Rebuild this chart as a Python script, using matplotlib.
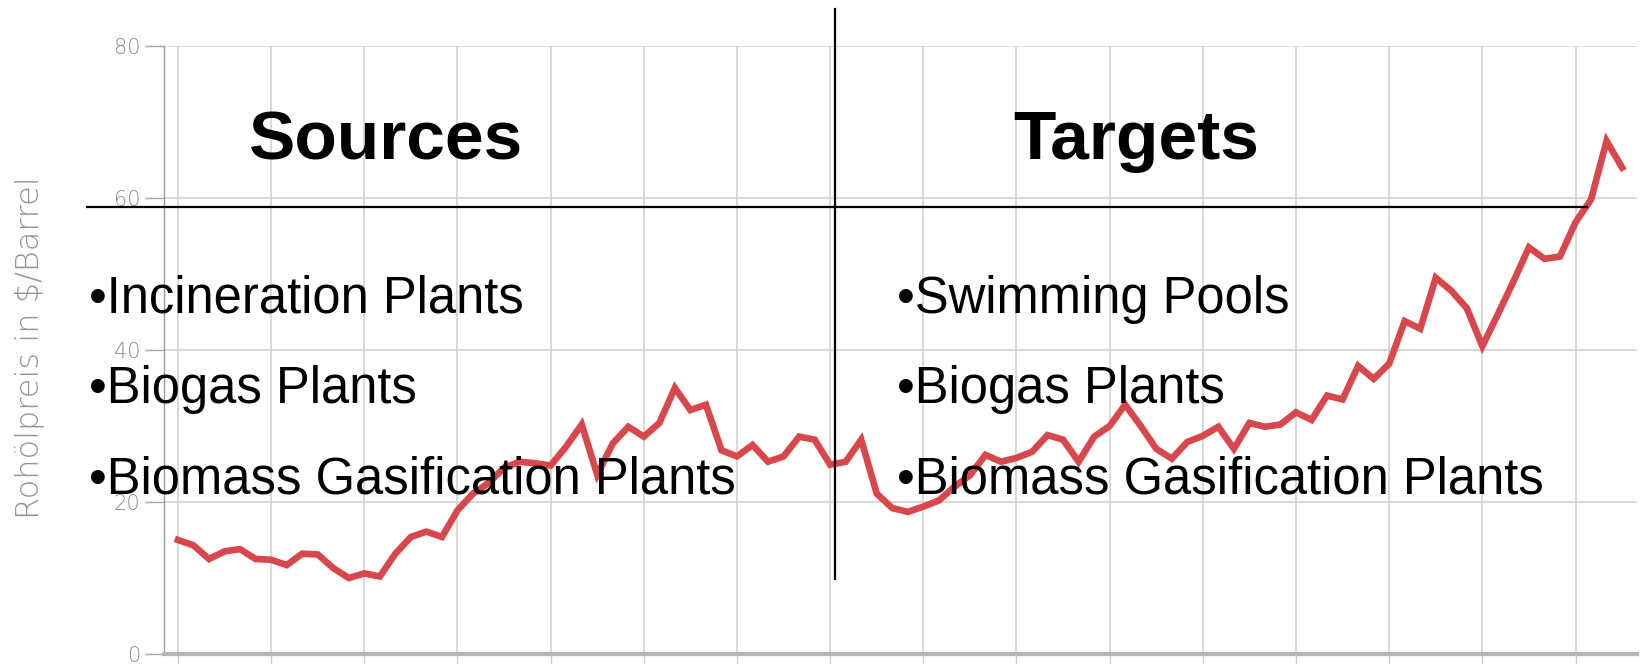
import numpy as np
import matplotlib
matplotlib.use("Agg")
import matplotlib.pyplot as plt
from matplotlib.lines import Line2D

# ---- data ----
prices = [15.0, 14.3, 12.5, 13.5, 13.8, 12.5, 12.4, 11.7, 13.2, 13.1,
          11.3, 10.0, 10.6, 10.2, 13.2, 15.4, 16.1, 15.4, 18.9, 21.1,
          22.5, 24.5, 25.3, 25.1, 24.8, 27.3, 30.2, 23.6, 27.7, 29.9,
          28.6, 30.4, 35.0, 32.1, 32.8, 26.8, 26.0, 27.5, 25.3, 26.0,
          28.6, 28.2, 24.9, 25.3, 28.2, 21.1, 19.2, 18.7, 19.4, 20.2,
          22.0, 23.5, 26.2, 25.3, 25.8, 26.6, 28.8, 28.2, 25.3, 28.6,
          30.0, 32.8, 30.0, 27.0, 25.7, 27.9, 28.7, 29.9, 27.0, 30.4,
          29.9, 30.2, 31.8, 30.8, 34.0, 33.5, 37.9, 36.2, 38.2, 43.8,
          42.8, 49.5, 47.8, 45.5, 40.5, 44.7, 49.0, 53.5, 52.0, 52.3,
          56.8, 59.8, 67.5, 64.0]
points_per_grid = 6
n_grid = 16
y_ticks = [0, 20, 40, 60, 80]
y_label = "Rohölpreis in $/Barrel"
left_title = "Sources"
right_title = "Targets"
left_items = ["•Incineration Plants", "•Biogas Plants", "•Biomass Gasification Plants"]
right_items = ["•Swimming Pools", "•Biogas Plants", "•Biomass Gasification Plants"]

W, H = 1645, 664
fig = plt.figure(figsize=(W / 100, H / 100), dpi=100)

def fx(px):
    return px / W

def fy(py):
    return 1 - py / H

ax = fig.add_axes([fx(164), fy(654), fx(1637) - fx(164), fy(46) - fy(654)])
x = np.arange(len(prices)) / points_per_grid
ax.plot(x, prices, color="#d7474b", lw=4.8, solid_joinstyle="miter", zorder=3)

ax.set_xlim(-0.15, 15.66)
ax.set_ylim(0, 80)
ax.set_xticks(np.arange(n_grid))
ax.set_xticklabels([])
ax.set_yticks(y_ticks)
ax.set_yticklabels([str(t) for t in y_ticks], color="#8a8a8a", fontsize=15,
                   family=["DejaVu Sans"], fontweight="light")
ax.grid(True, color="#d2d2d2", lw=1.2)
ax.tick_params(axis="y", length=14, width=1.0, color="#a8a8a8", pad=3, direction="out")
ax.tick_params(axis="x", length=9, width=1.0, color="#cfcfcf", direction="out")
for s in ["top", "right"]:
    ax.spines[s].set_visible(False)
ax.spines["left"].set_color("#9a9a9a")
ax.spines["left"].set_linewidth(1.0)
ax.spines["bottom"].set_color("#b5b5b5")
ax.spines["bottom"].set_linewidth(3.0)

fig.text(fx(30), fy(348), y_label, rotation=90, ha="center", va="center",
         color="#959595", fontsize=23, family=["DejaVu Sans"], fontweight="light")

# dividing lines
fig.add_artist(Line2D([fx(835), fx(835)], [fy(9), fy(579)], color="black", lw=1.6))
fig.add_artist(Line2D([fx(87), fx(1587)], [fy(207), fy(207)], color="black", lw=1.6))

# titles
fig.text(fx(386), fy(141), left_title, ha="center", va="center", fontsize=50,
         fontweight="bold", family=["Liberation Sans", "DejaVu Sans"], color="black")
fig.text(fx(1136), fy(141), right_title, ha="center", va="center", fontsize=50,
         fontweight="bold", family=["Liberation Sans", "DejaVu Sans"], color="black")

ys = [299, 389, 480]
for t, yy in zip(left_items, ys):
    fig.text(fx(89), fy(yy), t, ha="left", va="center", fontsize=36.5,
             family=["Liberation Sans", "DejaVu Sans"], color="black")
for t, yy in zip(right_items, ys):
    fig.text(fx(897), fy(yy), t, ha="left", va="center", fontsize=36.5,
             family=["Liberation Sans", "DejaVu Sans"], color="black")

fig.savefig("out.png", dpi=100, facecolor="white")
